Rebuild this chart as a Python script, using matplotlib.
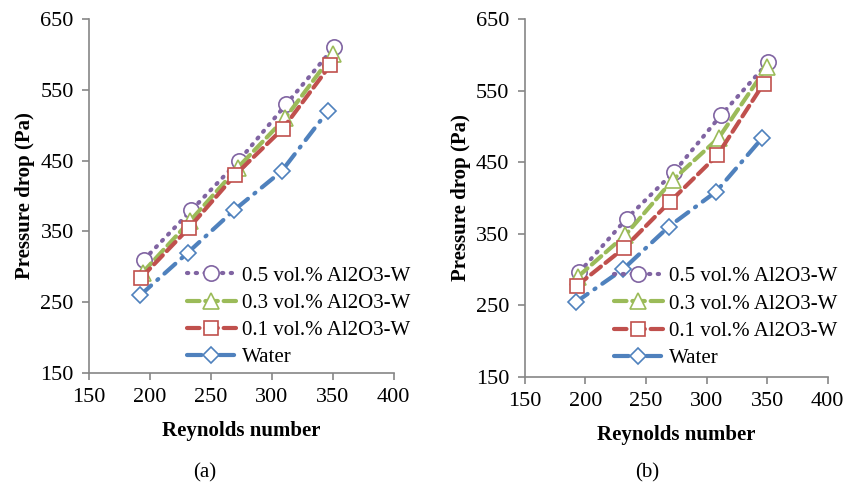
import matplotlib
matplotlib.use('Agg')
import matplotlib.pyplot as plt

plt.rcParams['font.family'] = ['Liberation Serif', 'DejaVu Serif']

# Данные (a)
re_a_05 = [195, 234, 273, 312, 351]
dp_a_05 = [310, 380, 450, 530, 610]
re_a_03 = [194, 233, 272, 311, 350]
dp_a_03 = [292, 365, 440, 510, 600]
re_a_01 = [193, 232, 270, 309, 348]
dp_a_01 = [285, 355, 430, 495, 585]
re_a_w = [192, 231, 269, 308, 346]
dp_a_w = [260, 320, 380, 435, 520]

# Данные (b)
re_b_05 = [195, 234, 273, 312, 351]
dp_b_05 = [296, 371, 436, 516, 590]
re_b_03 = [194, 233, 272, 310, 350]
dp_b_03 = [290, 348, 425, 484, 584]
re_b_01 = [193, 232, 270, 309, 347]
dp_b_01 = [277, 330, 395, 460, 560]
re_b_w = [192, 231, 269, 308, 346]
dp_b_w = [254, 300, 360, 409, 484]

labels = ['0.5 vol.% Al2O3-W', '0.3 vol.% Al2O3-W', '0.1 vol.% Al2O3-W', 'Water']
colors = ['#8064A2', '#9BBB59', '#C0504D', '#4F81BD']
markers = ['o', '^', 's', 'D']
msizes = [11, 11, 10, 8]
styles = [(0, (0.3, 1.8)), (0, (3, 1.4)), (0, (3, 1.4)), (0, (3.5, 2, 0.3, 2))]

fig = plt.figure(figsize=(8.56, 4.84), dpi=100)
ax1 = fig.add_axes([0.104, 0.229, 0.356, 0.732])
ax2 = fig.add_axes([0.613, 0.222, 0.354, 0.738])

data_a = [(re_a_05, dp_a_05), (re_a_03, dp_a_03), (re_a_01, dp_a_01), (re_a_w, dp_a_w)]
data_b = [(re_b_05, dp_b_05), (re_b_03, dp_b_03), (re_b_01, dp_b_01), (re_b_w, dp_b_w)]

# положение легенды и подписей (в долях фигуры)
leg_pos = [(0.4965, 0.2107), (0.9953, 0.2093)]
cap_pos = [(0.2395, 0.023), (0.756, 0.023)]

panels = [(ax1, data_a, '(a)', leg_pos[0], cap_pos[0]),
          (ax2, data_b, '(b)', leg_pos[1], cap_pos[1])]

for ax, data, cap, lp, cp in panels:
    for (x, y), lab, c, m, ms, ls in zip(data, labels, colors, markers, msizes, styles):
        ax.plot(x, y, color=c, lw=3, linestyle=ls, dash_capstyle='round',
                marker=m, ms=ms, mfc='white', mec=c, mew=1.2, label=lab)
    ax.set_xlim(150, 400)
    ax.set_ylim(150, 650)
    ax.set_xticks([150, 200, 250, 300, 350, 400])
    ax.set_yticks([150, 250, 350, 450, 550, 650])
    for s in ['top', 'right']:
        ax.spines[s].set_visible(False)
    for s in ['left', 'bottom']:
        ax.spines[s].set_color('#868686')
        ax.spines[s].set_linewidth(1.2)
    ax.tick_params(colors='#868686', labelcolor='black', labelsize=16,
                   length=5, width=1.2, direction='out', pad=6)
    ax.set_xlabel('Reynolds number', fontsize=15, fontweight='bold', labelpad=10)
    ax.set_ylabel('Pressure drop (Pa)', fontsize=15, fontweight='bold', labelpad=4)
    ax.legend(loc='lower right', bbox_to_anchor=lp, bbox_transform=fig.transFigure,
              frameon=False, fontsize=15, numpoints=1, handlelength=2.35,
              handletextpad=0.3, labelspacing=0.37, borderaxespad=0.3)
    fig.text(cp[0], cp[1], cap, ha='center', va='center', fontsize=15)

fig.savefig('out.png', dpi=100)
